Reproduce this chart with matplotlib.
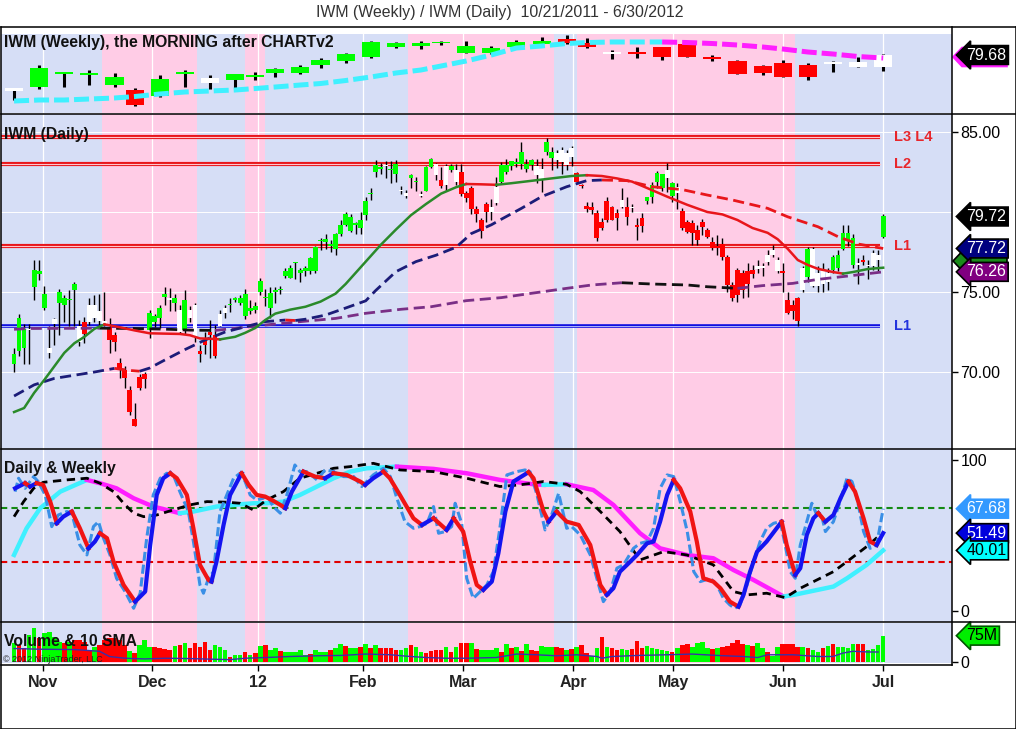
import numpy as np
import matplotlib
matplotlib.use('Agg')
import matplotlib.pyplot as plt
from matplotlib.lines import Line2D
from matplotlib.patches import Polygon

plt.rcParams['font.family'] = ['Liberation Sans', 'DejaVu Sans']

# ---------------- data ----------------
# daily bars, index 0 = 10/21/2011 ... 173 = 6/29/2012
d_open = [70.5, 71.3, 71.5, 72.6, 75.3, 76.1, 74.0, 71.5, 73.0, 74.3,
          74.2, 74.5, 75.1, 72.9, 73.1, 74.2, 74.2, 73.8, 73.2, 72.8,
          72.3, 70.55, 70.1, 68.9, 67.05, 69.7, 69.86, 72.6, 73.1, 73.4,
          74.7, 74.5, 74.3, 73.9, 72.6, 73.9, 74.2, 71.3, 72.0, 72.5,
          72.3, 72.9, 73.7, 74.2, 74.5, 74.3, 73.5, 73.8, 73.9, 75.0,
          74.6, 74.0, 75.0, 75.1, 76.0, 75.9, 76.8, 76.2, 76.3, 76.3,
          76.3, 78.2, 78.1, 77.9, 77.7, 78.6, 79.2, 78.8, 79.2, 79.0,
          79.8, 81.1, 82.5, 82.7, 82.85, 82.6, 82.4, 81.4, 81.2, 82.1,
          81.9, 81.1, 81.3, 82.8, 83.0, 82.0, 81.7, 82.6, 82.6, 82.5,
          81.2, 81.5, 80.2, 79.5, 80.5, 80.0, 80.54, 81.9, 82.5, 82.9,
          83.0, 83.0, 82.7, 82.94, 82.9, 82.7, 83.77, 83.36, 83.67, 83.88,
          83.67, 83.98, 82.42, 81.7, 80.4, 80.34, 79.92, 79.4, 80.69, 80.34,
          79.92, 80.34, 80.34, 80.3, 79.19, 79.65, 80.69, 80.96, 81.9, 81.48,
          82.6, 81.0, 81.58, 80.06, 79.4, 79.29, 78.88, 79.4, 78.88, 78.15,
          77.9, 78.0, 77.2, 75.44, 76.4, 76.2, 76.3, 76.4, 76.6, 76.5,
          76.9, 77.63, 77.0, 76.3, 74.5, 74.2, 74.6, 75.1, 75.96, 77.7,
          76.2, 76.3, 76.2, 76.4, 76.5, 77.7, 78.2, 76.7, 76.8, 77.0,
          76.6, 76.6, 77.0, 78.46]
d_high = [71.5, 73.6, 73.0, 73.0, 77.0, 77.0, 75.4, 72.9, 73.4, 75.2,
          74.8, 75.1, 75.65, 73.25, 73.45, 74.6, 74.8, 74.9, 75.0, 73.35,
          72.5, 70.85, 70.35, 69.1, 68.05, 69.9, 70.0, 73.9, 73.6, 74.2,
          75.3, 75.25, 74.9, 74.2, 75.1, 74.1, 74.3, 71.7, 72.5, 73.25,
          72.94, 73.9, 74.2, 74.6, 74.7, 74.8, 75.2, 74.5, 74.4, 75.85,
          75.2, 75.3, 75.3, 75.4, 76.5, 76.7, 76.9, 76.5, 76.6, 77.2,
          77.9, 78.35, 78.6, 78.25, 78.7, 79.5, 79.98, 79.85, 79.4, 79.98,
          80.96, 81.5, 83.25, 83.05, 83.2, 83.2, 83.25, 81.6, 81.4, 82.4,
          82.2, 81.3, 82.9, 83.35, 83.05, 82.8, 83.0, 83.0, 83.0, 83.0,
          81.3, 81.6, 80.4, 79.6, 80.65, 80.8, 82.2, 83.1, 83.3, 83.2,
          83.4, 84.4, 83.3, 83.3, 83.3, 83.36, 84.6, 84.09, 83.88, 84.09,
          83.88, 84.1, 82.5, 81.75, 80.6, 80.6, 80.1, 79.6, 80.96, 80.4,
          80.2, 81.52, 80.96, 80.5, 79.6, 79.92, 80.9, 81.9, 82.56, 82.4,
          83.04, 81.9, 81.8, 80.23, 79.5, 79.5, 79.2, 79.54, 79.0, 78.46,
          78.56, 78.4, 77.3, 75.65, 76.5, 76.4, 76.8, 76.7, 77.0, 76.8,
          77.6, 77.94, 77.2, 76.8, 75.0, 74.5, 74.7, 76.6, 77.8, 77.8,
          76.6, 76.8, 76.5, 77.3, 77.6, 79.2, 79.2, 78.6, 77.1, 77.3,
          77.0, 77.6, 77.6, 79.85]
d_low = [70.0, 71.0, 70.5, 70.5, 74.5, 75.75, 73.9, 70.9, 71.7, 72.3,
         73.15, 72.85, 72.85, 71.6, 71.8, 72.95, 73.1, 72.9, 72.9, 71.2,
         71.3, 69.6, 69.0, 67.3, 66.6, 68.9, 69.0, 72.1, 72.8, 72.75,
         74.2, 73.8, 73.8, 72.4, 72.4, 73.1, 71.9, 70.6, 71.1, 70.85,
         70.85, 72.85, 73.4, 73.77, 74.4, 74.2, 73.3, 73.6, 73.7, 74.8,
         74.1, 73.36, 74.3, 74.9, 75.85, 75.85, 75.8, 75.6, 76.0, 76.1,
         76.2, 77.6, 77.7, 77.5, 77.3, 78.5, 79.1, 78.75, 78.6, 78.6,
         79.5, 80.75, 82.2, 82.4, 82.1, 81.8, 81.9, 81.1, 80.9, 81.5,
         81.3, 80.96, 81.3, 82.75, 82.0, 81.5, 81.3, 82.5, 81.7, 81.0,
         80.6, 79.9, 79.4, 78.4, 79.4, 79.5, 80.45, 81.8, 82.4, 82.6,
         82.8, 82.7, 82.5, 82.6, 81.8, 81.27, 83.56, 82.6, 82.73, 82.4,
         82.6, 82.9, 81.8, 81.5, 80.0, 79.9, 78.2, 78.9, 79.4, 79.5,
         78.9, 80.27, 79.2, 80.0, 78.25, 78.77, 80.5, 80.54, 81.5, 81.3,
         81.27, 80.65, 80.2, 78.9, 78.7, 77.94, 77.94, 78.56, 78.4, 77.63,
         77.3, 77.0, 75.0, 74.44, 74.4, 74.6, 74.7, 75.9, 76.2, 76.0,
         76.7, 77.2, 76.2, 75.0, 73.6, 73.3, 72.9, 75.0, 75.65, 75.3,
         75.0, 75.0, 75.1, 76.2, 76.3, 77.6, 77.9, 76.5, 75.5, 76.7,
         75.8, 76.4, 76.3, 78.4]
d_close = [71.1, 73.4, 72.7, 72.7, 76.4, 76.3, 74.85, 71.2, 73.3, 75.0,
           74.65, 74.55, 75.5, 71.9, 72.4, 73.15, 73.35, 73.2, 73.0, 72.0,
           71.9, 70.2, 69.6, 67.5, 66.6, 69.0, 69.56, 73.7, 73.5, 74.0,
           74.9, 74.6, 74.6, 72.5, 74.5, 73.4, 72.1, 71.1, 71.7, 72.3,
           71.0, 73.6, 74.0, 74.25, 74.6, 74.6, 74.9, 74.0, 74.1, 75.7,
           74.7, 74.95, 75.1, 75.2, 76.3, 76.5, 76.85, 76.4, 76.5, 77.1,
           77.8, 78.25, 78.3, 78.0, 78.6, 79.2, 79.85, 79.7, 79.3, 79.5,
           80.7, 81.2, 82.95, 82.8, 82.9, 82.7, 82.98, 81.3, 81.0, 82.3,
           81.95, 81.0, 82.8, 83.3, 82.3, 81.6, 82.9, 82.9, 81.9, 81.1,
           80.9, 80.2, 79.9, 78.8, 79.98, 80.3, 81.58, 82.94, 82.94, 83.2,
           83.15, 83.77, 83.0, 83.25, 82.3, 82.0, 84.4, 83.77, 83.25, 83.15,
           82.94, 83.46, 81.9, 81.63, 80.2, 80.13, 78.36, 78.98, 79.5, 79.5,
           79.65, 80.75, 79.71, 80.27, 79.09, 79.15, 80.96, 81.69, 82.42, 82.36,
           82.1, 81.79, 81.17, 79.02, 78.73, 78.67, 78.25, 79.09, 78.46, 77.77,
           77.73, 77.2, 75.44, 74.65, 74.8, 75.1, 75.5, 76.1, 76.45, 76.6,
           77.3, 77.3, 76.3, 76.2, 73.7, 73.8, 73.2, 76.5, 77.7, 75.4,
           75.4, 75.5, 75.6, 77.2, 77.3, 78.7, 78.7, 78.4, 76.7, 76.9,
           76.6, 77.46, 77.3, 79.72]
d_color = ('gggwgggwwg' 'gggwrwwwwr' 'rrrrrrrggg' 'gwgwgwwrrr' 'rwwggggggg'
           'gggggggggg' 'gggggggggg' 'ggggwggwwg' 'gwggwrwgwr' 'rrrrrwwggg'
           'ggggwwggww' 'wwrrrrrrrr' 'rwrwrrgggg' 'wgwrrrrrrr' 'rrrrrrrrww'
           'wwwrrrrwgw' 'wwwgggggwr' 'wwwg')

# daily moving averages (bar index, price)
ma1_x = [0, 2, 4, 6, 8, 10, 12, 14, 16, 18, 21, 24, 27, 30, 33, 35, 37, 39, 41, 44,
         46, 48, 50, 52, 55, 58, 61, 64, 66, 68, 70, 73, 76, 79, 82, 85, 88, 90, 93, 96,
         99, 103, 107, 111, 114, 117, 120, 123, 126, 130, 134, 138, 141, 144, 147, 150,
         152, 154, 156, 158, 160, 163, 165, 167, 170, 173]
ma1_y = [67.5, 67.75, 68.7, 69.5, 70.35, 71.2, 71.8, 72.2, 72.7, 72.98, 72.8, 72.6,
         72.42, 72.4, 72.38, 72.3, 72.1, 72.08, 72.04, 72.2, 72.45, 72.75, 73.25, 73.65,
         73.9, 74.08, 74.4, 74.9, 75.5, 76.2, 76.9, 77.95, 78.9, 79.8, 80.5, 81.15, 81.55,
         81.75, 81.73, 81.7, 81.8, 81.95, 82.1, 82.25, 82.3, 82.25, 82.1, 81.9, 81.5,
         80.96, 80.45, 80.0, 79.85, 79.5, 79.0, 78.7, 78.3, 77.7, 77.0, 76.69, 76.45,
         76.25, 76.15, 76.25, 76.44, 76.52]
ma2_x = [0, 2, 4, 8, 12, 16, 20, 23, 25, 27, 30, 34, 38, 42, 46, 50, 54, 56, 58, 62,
         66, 70, 72, 76, 80, 84, 88, 91, 95, 97, 101, 105, 110, 114, 117, 122, 127, 133,
         138, 143, 150, 154, 160, 164, 168, 173]
ma2_y = [68.5, 68.85, 69.2, 69.6, 69.8, 70.0, 70.23, 70.1, 70.05, 70.25, 70.75, 71.4,
         72.0, 72.5, 72.83, 73.15, 73.25, 73.22, 73.3, 73.56, 74.0, 74.45, 75.1, 76.27,
         76.9, 77.3, 77.8, 78.65, 79.2, 79.55, 80.23, 80.96, 81.58, 81.96, 82.0, 81.96,
         81.58, 81.4, 81.06, 80.75, 80.23, 79.7, 79.08, 78.46, 78.0, 77.72]
ma3_x = [0, 3, 10, 17, 24, 30, 35, 40, 44, 50, 57, 64, 70, 77, 83, 90, 97, 103, 110,
         115, 121, 127, 134, 138, 144, 149, 155, 160, 166, 173]
ma3_y = [72.67, 72.72, 72.73, 72.74, 72.72, 72.68, 72.62, 72.6, 72.73, 72.94, 73.15,
         73.35, 73.67, 73.92, 74.08, 74.46, 74.65, 74.92, 75.23, 75.44, 75.58, 75.5,
         75.44, 75.33, 75.23, 75.4, 75.54, 75.79, 76.0, 76.26]

levels_red = [84.67, 83.0, 77.87]
level_red_names = ['L3 L4', 'L2', 'L1']
level_blue = 72.9

# weekly bars (plotted at the last daily bar of each week)
wk_x = [0, 5, 10, 15, 20, 24, 29, 34, 39, 44, 48, 52, 57, 61, 66, 71, 76, 81, 85,
        90, 95, 100, 105, 110, 114, 119, 124, 129, 134, 139, 144, 149, 153, 158,
        163, 168, 173]
wk_open = [70.7, 71.68, 74.93, 74.68, 72.18, 70.93, 69.43, 74.93, 72.68, 73.43,
           74.18, 75.18, 75.18, 77.18, 78.18, 79.18, 81.68, 81.93, 82.68, 80.18,
           80.18, 81.68, 82.43, 82.68, 81.68, 80.43, 80.43, 79.18, 82.43, 79.18,
           78.18, 76.93, 77.68, 77.18, 77.93, 76.68, 76.68]
wk_high = [71.5, 77.18, 75.43, 75.93, 75.18, 71.43, 74.68, 75.93, 74.68, 74.93,
           75.43, 76.43, 77.18, 78.93, 80.18, 83.18, 82.93, 83.18, 83.18, 83.18,
           81.93, 83.43, 84.18, 84.68, 83.93, 80.93, 81.68, 81.68, 82.43, 79.68,
           78.43, 77.18, 78.43, 77.68, 78.18, 79.18, 79.93]
wk_low = [68.43, 71.18, 71.68, 72.18, 71.68, 66.93, 69.18, 71.68, 71.18, 71.18,
          73.43, 74.18, 74.93, 76.43, 77.68, 78.93, 81.43, 81.18, 82.18, 80.18,
          79.93, 81.43, 81.68, 82.43, 81.43, 78.68, 78.93, 78.43, 79.18, 78.18,
          74.93, 74.68, 74.18, 73.43, 75.43, 76.68, 75.68]
wk_close = [71.4, 76.43, 75.43, 75.18, 74.18, 67.18, 73.68, 75.43, 73.93, 74.93,
            74.68, 76.18, 76.68, 78.43, 79.93, 82.93, 82.68, 82.68, 82.93, 81.93,
            81.43, 82.93, 83.18, 83.68, 82.68, 79.93, 79.93, 81.68, 79.18, 78.68,
            74.93, 75.18, 74.18, 74.18, 77.43, 77.93, 79.68]
wk_color = 'wggggrggwggggggggggggggrrwrrrrrrrrww'
wk_ma = [68.18, 68.43, 68.43, 68.68, 68.93, 69.3, 69.93, 70.43, 70.68, 70.93, 71.3,
         71.68, 72.18, 72.55, 73.3, 74.18, 75.18, 75.93, 76.93, 78.18, 79.68, 81.43,
         81.93, 82.55, 82.8, 82.93, 82.93, 82.93, 82.8, 82.55, 82.18, 81.68, 81.18,
         80.43, 79.93, 79.3, 78.93]
wk_band = 'bbbbppppbbpbbbbbbppppppbpppppppppbbbb'

# oscillator panel
k_x = [0.2, 0.9, 2.2, 3.9, 4.8, 6.2, 7.5, 8.8, 10.5, 11.5,
       13.1, 14.5, 15.8, 16.8, 17.8, 19.1, 20.4, 22.1, 23.8, 25.1,
       26.4, 27.7, 29.1, 30.4, 31.7, 33.0, 34.7, 35.7, 37.0, 37.7,
       38.7, 39.7, 41.0, 43.7, 45.0, 46.0, 47.0, 48.3, 49.6, 50.3,
       51.6, 53.0, 54.3, 55.9, 56.9, 58.3, 60.3, 61.9, 63.6, 65.6,
       67.6, 69.2, 70.2, 71.5, 73.5, 74.9, 76.2, 77.8, 79.5, 80.8,
       82.2, 83.5, 84.5, 85.8, 87.1, 87.8, 89.1, 90.1, 91.4, 92.8,
       94.1, 95.4, 96.7, 98.1, 100.1, 101.7, 102.7, 104.1, 105.7, 107.0,
       108.4, 110.0, 111.0, 112.7, 114.7, 116.0, 117.3, 118.7, 120.0, 121.3,
       123.3, 124.6, 126.0, 127.3, 128.6, 130.0, 131.3, 132.6, 134.0, 135.3,
       136.6, 138.6, 139.9, 141.2, 142.5, 143.5, 144.5, 145.9, 147.2, 148.5,
       149.8, 151.2, 152.5, 153.5, 154.5, 155.5, 156.5, 157.8, 158.8, 159.8,
       160.8, 161.5, 163.1, 164.4, 165.8, 166.8, 167.8, 169.1, 170.4, 171.7, 173.0]
k_y = [79.0, 87.9, 81.2, 89.0, 85.7, 76.8, 55.8, 63.5, 65.8, 64.7,
       43.6, 37.0, 55.8, 59.1, 48.1, 37.0, 21.5, 12.7, 1.6, 11.6,
       48.1, 76.8, 87.9, 91.2, 90.1, 79.0, 65.8, 45.9, 17.1, 11.6,
       21.5, 25.9, 65.8, 87.9, 91.2, 85.7, 76.8, 73.5, 74.6, 76.8,
       69.1, 64.7, 76.8, 96.7, 92.3, 92.3, 86.8, 93.4, 92.3, 89.0,
       89.0, 82.4, 85.7, 90.1, 94.5, 89.0, 74.6, 59.1, 54.7, 55.8,
       58.0, 69.1, 51.4, 52.5, 55.8, 71.3, 58.0, 21.5, 8.2, 12.7,
       17.1, 25.9, 54.7, 90.1, 92.3, 93.4, 92.3, 76.8, 53.6, 63.5,
       77.9, 54.7, 55.8, 50.3, 37.0, 21.5, 6.0, 12.7, 28.2, 30.4,
       41.4, 44.7, 45.9, 54.7, 81.2, 90.1, 89.0, 72.4, 52.5, 25.9,
       19.3, 21.5, 17.1, 8.2, 3.8, 1.6, 3.8, 17.1, 32.6, 45.9,
       54.7, 58.0, 59.1, 43.6, 25.9, 21.5, 43.6, 59.1, 71.3, 63.5,
       62.4, 52.5, 59.1, 72.4, 87.9, 85.7, 74.6, 52.5, 41.4, 43.6, 67.68]
d_x = [0.2, 2.2, 3.2, 4.5, 5.8, 7.2, 8.5, 9.8, 11.5, 13.1,
       14.8, 16.1, 17.1, 18.5, 19.8, 21.8, 23.4, 24.1, 26.1, 27.1,
       28.4, 29.7, 31.1, 32.4, 34.4, 35.7, 37.0, 38.7, 39.3, 40.3,
       41.7, 43.0, 45.3, 46.7, 48.3, 50.0, 51.3, 53.0, 54.0, 55.3,
       57.6, 59.9, 61.9, 63.6, 66.2, 68.9, 69.9, 71.5, 73.5, 74.8,
       76.8, 79.5, 81.2, 83.5, 86.1, 87.5, 89.4, 90.8, 92.1, 93.4,
       95.1, 96.4, 97.8, 99.4, 102.4, 103.4, 105.4, 106.4, 108.0, 110.0,
       112.4, 114.7, 116.7, 118.0, 119.3, 120.6, 122.0, 124.0, 126.0, 127.3,
       128.6, 130.0, 131.3, 132.6, 134.6, 135.9, 137.2, 139.2, 140.6, 142.5,
       144.2, 145.2, 146.5, 147.9, 149.8, 152.8, 153.8, 155.5, 156.5, 157.8,
       159.1, 160.1, 161.5, 163.1, 164.5, 166.1, 167.4, 169.1, 170.4, 171.7, 173.0]
d_y = [81.2, 84.6, 82.4, 84.6, 83.5, 72.4, 58.0, 62.4, 65.8, 54.7,
       41.4, 45.9, 51.4, 48.1, 32.6, 17.1, 9.4, 6.0, 12.7, 43.6,
       76.8, 87.9, 91.2, 87.9, 76.8, 54.7, 30.4, 20.4, 19.3, 32.6,
       56.9, 76.8, 91.2, 83.5, 76.8, 75.7, 73.5, 70.2, 68.0, 79.0,
       92.3, 89.0, 87.9, 91.2, 90.1, 85.7, 83.5, 87.9, 92.3, 87.9,
       76.8, 61.3, 56.9, 61.3, 53.6, 61.3, 52.5, 32.6, 17.1, 13.8,
       19.3, 38.0, 65.8, 85.7, 91.9, 87.9, 65.8, 59.1, 65.8, 59.1,
       56.9, 43.6, 17.1, 10.5, 14.9, 25.9, 30.4, 37.0, 44.7, 45.9,
       59.1, 76.8, 86.8, 81.2, 65.8, 45.9, 21.5, 19.3, 14.9, 6.0,
       2.7, 10.5, 25.9, 39.2, 45.9, 59.1, 43.6, 23.7, 28.2, 50.3,
       61.3, 64.7, 59.1, 63.5, 74.6, 85.7, 79.0, 61.3, 45.9, 43.6, 51.49]
ws_x = [0, 2.5, 5.2, 9.2, 14.5, 17.1, 20.4, 23.8, 27.7, 33.0, 35.7, 40.3, 43.7, 47.6,
        50.3, 53.6, 56.9, 60.3, 63.6, 66.9, 70.2, 76.2, 83.5, 90.1, 96.7, 103.4, 105.4,
        110.0, 115.3, 119.3, 124.6, 128.6, 133.9, 139.2, 143.2, 147.2, 153.2, 155.2,
        163.1, 165.8, 169.7, 173.0]
ws_y = [37.0, 54.7, 68.0, 79.0, 86.8, 84.6, 81.2, 74.6, 69.1, 64.7, 65.8, 69.1, 70.2,
        71.3, 71.3, 72.4, 76.8, 82.4, 87.9, 92.3, 94.5, 95.6, 94.1, 91.2, 86.8, 83.9,
        83.5, 83.9, 80.1, 70.2, 51.4, 41.4, 37.0, 34.8, 27.0, 20.4, 9.4, 10.5, 16.0,
        21.5, 30.4, 40.01]
bk_x = [0, 1.9, 3.9, 5.8, 10.5, 14.5, 17.1, 19.8, 21.8, 23.8, 25.8, 28.4, 31.7, 35.0,
        38.4, 42.3, 45.0, 47.6, 50.3, 53.6, 56.9, 60.3, 63.6, 66.9, 71.5, 74.2, 76.8,
        83.5, 90.1, 96.7, 100.7, 105.4, 110.0, 112.7, 116.7, 120.6, 124.6, 129.3,
        133.9, 139.2, 143.2, 145.9, 149.8, 153.5, 156.5, 163.1, 165.8, 169.7, 172.4]
bk_y = [62.4, 72.4, 81.2, 85.2, 86.8, 87.9, 84.6, 79.0, 71.3, 64.7, 62.4, 63.5, 66.9,
        70.2, 72.4, 72.0, 71.3, 66.9, 73.5, 79.0, 87.9, 91.2, 94.5, 95.6, 97.8, 95.6,
        93.4, 92.3, 87.9, 82.4, 83.5, 85.7, 83.9, 79.0, 65.8, 52.5, 33.7, 39.2, 37.0,
        30.4, 12.7, 10.5, 11.6, 8.7, 14.9, 25.9, 32.6, 42.5, 50.3]
osc_upper, osc_lower = 68, 32

# volume (millions) per daily bar
vol = [52.9, 48.1, 38.4, 76.9, 96.2, 67.3, 81.8, 86.5, 72.1, 57.7,
       52.9, 57.7, 62.5, 62.5, 57.7, 33.6, 43.2, 48.1, 62.5, 67.3,
       67.3, 62.5, 48.1, 30.0, 24.1, 48.1, 62.5, 43.2, 43.2, 38.4,
       35.6, 33.6, 45.2, 48.1, 52.9, 38.4, 54.8, 43.2, 57.7, 33.6,
       48.1, 43.2, 33.6, 14.5, 19.3, 20.0, 28.8, 19.3, 24.1, 45.0,
       48.1, 33.6, 38.4, 31.7, 28.8, 28.8, 28.8, 33.6, 20.0, 22.1,
       33.6, 28.8, 28.8, 33.6, 38.4, 51.0, 45.2, 38.4, 38.4, 43.2,
       51.0, 38.4, 48.1, 38.4, 38.4, 38.4, 33.6, 33.6, 38.4, 48.1,
       43.2, 28.8, 24.1, 30.0, 33.6, 33.6, 43.2, 28.8, 43.2, 52.9,
       52.9, 52.9, 35.6, 33.6, 33.6, 33.6, 38.4, 26.9, 51.0, 38.4,
       43.2, 31.7, 51.0, 33.6, 31.7, 45.2, 41.4, 41.4, 43.2, 38.4,
       33.6, 35.6, 43.2, 48.1, 26.0, 15.0, 38.4, 72.1, 43.2, 38.4,
       33.6, 35.6, 33.6, 35.6, 60.6, 38.4, 45.2, 38.4, 35.6, 33.6,
       31.7, 26.9, 38.4, 48.1, 51.0, 43.2, 54.8, 57.7, 38.4, 35.6,
       38.4, 41.4, 45.2, 54.8, 62.5, 51.0, 48.1, 45.2, 54.8, 38.4,
       28.8, 15.0, 41.4, 51.0, 51.0, 51.0, 43.2, 41.4, 38.4, 33.6,
       28.8, 38.4, 45.2, 51.0, 41.4, 41.4, 38.4, 51.0, 51.0, 51.0,
       33.6, 35.6, 48.1, 75.0]
vol_color = ('grrggrgggg' 'rgrrrrgrrr' 'rrrgrgggrr' 'rrgrgrrrrr' 'gggrggrgrg'
             'rggrgggggr' 'gggrggrggr' 'grgrrrrggr' 'ggrrrrgrgr' 'rgrggggrgr'
             'grgrrgggrr' 'grgrrggrgr' 'rggrrrgggg' 'grgrrggggr' 'grrrrrgrgg'
             'rggrrrrgrg' 'grgrggggrr' 'gggg')
vs_x = [0, 5, 12, 17, 19, 22, 26, 30, 35, 40, 43, 46, 50, 55, 60, 65, 70, 75, 78, 82,
        86, 90, 96, 100, 104, 108, 112, 116, 117, 119, 124, 130, 135, 140, 145, 148,
        150, 155, 160, 163, 165, 167, 170, 172]
vs_y = [38, 36, 35, 30, 15, 10, 8, 10, 9, 7, 6, 10, 12, 15, 17, 18, 22, 20, 16, 12,
        10, 10, 12, 22, 20, 17, 20, 15, 10, 15, 18, 20, 22, 18, 15, 12, 20, 20, 15, 15,
        25, 30, 28, 28]

month_pos = [5.8, 27.5, 48.6, 69.5, 89.4, 111.3, 131.2, 153.1, 173.0]
month_lbl = ['Nov', 'Dec', '12', 'Feb', 'Mar', 'Apr', 'May', 'Jun', 'Jul']

n = len(d_close)

# ---------------- layout ----------------
W, H = 1016, 729
fig = plt.figure(figsize=(W / 100, H / 100), dpi=100)

PINK = '#ffcce6'
BLUE = '#d6def6'
CMAP = {'g': '#00ff00', 'r': '#ff0000', 'w': '#ffffff'}
XL = (-2.6, 186.7)


def axes_px(l, t, r, b):
    return fig.add_axes([l / W, 1 - b / H, (r - l) / W, (b - t) / H])


def ftext(x, y, s, **kw):
    fig.text(x / W, 1 - y / H, s, **kw)


def fline(x0, y0, x1, y1, **kw):
    fig.add_artist(Line2D([x0 / W, x1 / W], [1 - y0 / H, 1 - y1 / H],
                          transform=fig.transFigure, color='black', lw=1.1, **kw))


ax_w = axes_px(1, 27, 952, 114)
ax_d = axes_px(1, 114, 952, 449)
ax_o = axes_px(1, 449, 952, 622)
ax_v = axes_px(1, 622, 952, 665)

ax_w.set_ylim(64.93, 86.68)
ax_d.set_ylim(65.19, 86.125)
ax_o.set_ylim(-7.5, 107.3)
ax_v.set_ylim(-9.5, 114.4)

edges = [XL[0]] + [(wk_x[k] + wk_x[k + 1]) / 2 for k in range(len(wk_x) - 1)] + [XL[1]]
band_lim = {ax_w: (1 / 87, 80 / 87), ax_d: (0, 1), ax_o: (0, 1), ax_v: (2 / 43, 42 / 43)}

for ax in (ax_w, ax_d, ax_o, ax_v):
    ax.set_xlim(*XL)
    ax.set_facecolor('white')
    for s in ax.spines.values():
        s.set_visible(False)
    lo, hi = band_lim[ax]
    start = 0
    for k in range(1, len(wk_band) + 1):
        if k == len(wk_band) or wk_band[k] != wk_band[start]:
            ax.axvspan(edges[start], edges[k], lo, hi,
                       color=PINK if wk_band[start] == 'p' else BLUE, lw=0, zorder=0)
            start = k
    for mp in month_pos:
        ax.axvline(mp, lo, hi, color='white', lw=0.9, zorder=0.5)
    ax.tick_params(axis='x', bottom=False, labelbottom=False)
    ax.yaxis.tick_right()
    ax.tick_params(axis='y', length=4, width=1, labelsize=11.5, pad=2, colors='black')


def colored_runs(ax, xs, ys, up, dn, **kw):
    cur_col, cur = None, []
    for j in range(len(xs) - 1):
        col = up if ys[j + 1] >= ys[j] else dn
        if col != cur_col:
            if cur:
                ax.plot([p[0] for p in cur], [p[1] for p in cur], color=cur_col, **kw)
            cur = [(xs[j], ys[j])]
            cur_col = col
        cur.append((xs[j + 1], ys[j + 1]))
    ax.plot([p[0] for p in cur], [p[1] for p in cur], color=cur_col, **kw)


def candles(ax, x, o, h, l, c, cols, width, wlw, minh):
    x = np.asarray(x, float)
    o, h, l, c = (np.asarray(a, float) for a in (o, h, l, c))
    ax.vlines(x, l, h, color='black', lw=wlw, zorder=3)
    bottom = np.minimum(o, c)
    height = np.maximum(np.abs(c - o), minh)
    ax.bar(x, height, width=width, bottom=bottom, color=[CMAP[k] for k in cols],
           edgecolor='none', zorder=4)


def tag(ax, y, s, fc, tc='white', ec=None):
    ax.text(1.0151, y, s, transform=ax.get_yaxis_transform(), ha='left', va='center',
            fontsize=11.5, color=tc, clip_on=False, zorder=20,
            bbox=dict(boxstyle='larrow,pad=0.12', fc=fc, ec=ec or fc, lw=1.2))


def tag_shape(ax, yc, fc, ec):
    # an empty value marker, mostly hidden behind its neighbours
    pts = [(953, yc), (962, yc - 9.5), (1007, yc - 9.5), (1007, yc + 9.5), (962, yc + 9.5)]
    ax.add_patch(Polygon([(x / W, 1 - y / H) for x, y in pts], closed=True,
                         transform=fig.transFigure, fc=fc, ec=ec, lw=1.2,
                         clip_on=False, zorder=19))


# ---------------- weekly panel ----------------
candles(ax_w, wk_x, wk_open, wk_high, wk_low, wk_close, wk_color, 3.6, 2.2, 0.35)
colored_runs(ax_w, wk_x, wk_ma, '#3ff0ff', '#ff1eff', lw=3.6, dashes=(3, 1),
             solid_capstyle='butt', zorder=6)
ax_w.set_yticks([])
tag_shape(ax_w, 57.0, '#ff1eff', '#ff1eff')
tag(ax_w, wk_close[-1], f'{wk_close[-1]:.2f}', 'black')

# ---------------- daily panel ----------------
for yv in (70, 75, 80, 85):
    ax_d.axhline(yv, color='white', lw=0.7, zorder=0.5)
for yv, name in zip(levels_red, level_red_names):
    ax_d.plot([XL[0], 172.3], [yv, yv], color='#e8161b', lw=3.0, zorder=2,
              solid_capstyle='butt')
    ax_d.plot([XL[0], 172.3], [yv, yv], color='#ffc6cc', lw=0.8, zorder=2.1)
    ax_d.text(175.2, yv, name, color='#e8262b', fontsize=10.5, fontweight='bold',
              va='center', ha='left', zorder=6)
ax_d.plot([XL[0], 172.3], [level_blue, level_blue], color='#1010e0', lw=2.6, zorder=2,
          solid_capstyle='butt')
ax_d.plot([XL[0], 172.3], [level_blue, level_blue], color='#c8d0ff', lw=0.6, zorder=2.1)
ax_d.text(175.2, level_blue, 'L1', color='#2233dd', fontsize=10.5, fontweight='bold',
          va='center', ha='left', zorder=6)

candles(ax_d, np.arange(n), d_open, d_high, d_low, d_close, d_color, 0.95, 1.0, 0.06)

colored_runs(ax_d, ma3_x, ma3_y, '#7a2f86', '#111111', lw=2.0, dashes=(4, 2), zorder=5)
colored_runs(ax_d, ma2_x, ma2_y, '#1c1c78', '#e8161b', lw=2.0, dashes=(4, 2), zorder=5)
colored_runs(ax_d, ma1_x, ma1_y, '#2a8a2a', '#e8161b', lw=1.8, zorder=5.5)

ax_d.set_yticks([70, 75, 85])
ax_d.set_yticklabels(['70.00', '75.00', '85.00'])
tag_shape(ax_d, 261.0, '#1a8a1a', 'black')
tag(ax_d, ma2_y[-1], f'{ma2_y[-1]:.2f}', '#000080', ec='black')
tag(ax_d, ma3_y[-1], f'{ma3_y[-1]:.2f}', '#800080', ec='black')
tag(ax_d, d_close[-1], f'{d_close[-1]:.2f}', 'black')

# ---------------- oscillator panel ----------------
ax_o.axhline(osc_upper, color='#148a14', lw=1.5, dashes=(3, 2), zorder=1)
ax_o.axhline(osc_lower, color='#e00000', lw=1.5, dashes=(3, 2), zorder=1)
colored_runs(ax_o, ws_x, ws_y, '#3ff0ff', '#ff1eff', lw=3.2, zorder=2,
             solid_joinstyle='round')
ax_o.plot(bk_x, bk_y, color='black', lw=2.0, dashes=(3, 2), zorder=3)
ax_o.plot(k_x, k_y, color='#3a8fe6', lw=2.2, dashes=(3, 1.2), zorder=4)
colored_runs(ax_o, d_x, d_y, '#1414f0', '#f01414', lw=3.0, zorder=5,
             solid_joinstyle='round')
ax_o.set_yticks([0, 100])
ax_o.set_yticklabels(['0', '100'])
tag(ax_o, k_y[-1], f'{k_y[-1]:.2f}', '#3399ff')
tag(ax_o, d_y[-1], f'{d_y[-1]:.2f}', '#0000dd', ec='black')
tag(ax_o, ws_y[-1], f'{ws_y[-1]:.2f}', '#00ffff', tc='black', ec='black')

# ---------------- volume panel ----------------
ax_v.bar(np.arange(n), vol, width=0.92, color=[CMAP[k] for k in vol_color],
         edgecolor='none', zorder=3)
ax_v.plot(vs_x, vs_y, color='#3a30a8', lw=1.0, zorder=4)
ax_v.set_yticks([0])
ax_v.set_yticklabels(['0'])
tag(ax_v, vol[-1], f'{vol[-1]:.0f}M', '#00ee00', tc='black', ec='#005500')

ax_v.set_xticks(month_pos)
ax_v.set_xticklabels(month_lbl, fontweight='bold', fontsize=11.5, color='#222222')
ax_v.tick_params(axis='x', bottom=True, labelbottom=True, length=4.5, width=1,
                 pad=3, direction='out')

# ---------------- frame and texts ----------------
fline(0.5, 27, 1015.5, 27)
fline(0.5, 27, 0.5, 728.5)
fline(1015.5, 27, 1015.5, 728.5)
fline(0.5, 728.5, 1015.5, 728.5)
fline(952, 27, 952, 665)
for yy in (114, 449, 622):
    fline(0.5, yy, 1015.5, yy)
fline(0.5, 665, 952, 665)

ftext(500, 13, 'IWM (Weekly) / IWM (Daily)  10/21/2011 - 6/30/2012', ha='center',
      va='center', fontsize=11.4, color='#333333')
ftext(4, 42, 'IWM (Weekly), the MORNING after CHARTv2', ha='left', va='center',
      fontsize=11.3, fontweight='bold', color='#111111')
ftext(4, 134, 'IWM (Daily)', ha='left', va='center', fontsize=11.3, fontweight='bold',
      color='#111111')
ftext(4, 469, 'Daily & Weekly', ha='left', va='center', fontsize=11.3, fontweight='bold',
      color='#111111')
ftext(4, 641, 'Volume & 10 SMA', ha='left', va='center', fontsize=11.3, fontweight='bold',
      color='#111111')
ftext(3, 659, '\u00a9 2012 NinjaTrader, LLC', ha='left', va='center', fontsize=6.5,
      color='#222222')

fig.savefig('out.png', dpi=100)
